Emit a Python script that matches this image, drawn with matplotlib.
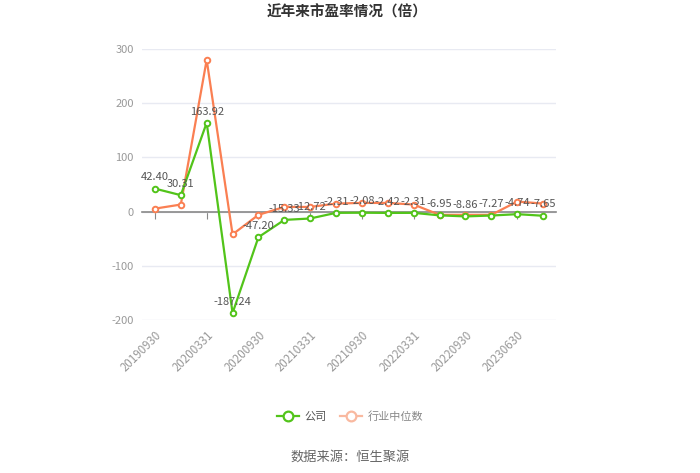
import matplotlib
matplotlib.use("Agg")
import matplotlib.pyplot as plt
from matplotlib.lines import Line2D

plt.rcParams['font.family'] = ['Noto Sans CJK SC', 'DejaVu Sans']

dates = ["20190930", "20191231", "20200331", "20200630", "20200930", "20201231",
         "20210331", "20210630", "20210930", "20211231", "20220331", "20220630",
         "20220930", "20221231", "20230630", "20230930"]
company = [42.40, 30.31, 163.92, -187.24, -47.20, -15.33, -12.72, -2.31, -2.08,
           -2.42, -2.31, -6.95, -8.86, -7.27, -4.74, -7.65]
industry = [5.5, 13, 280, -42, -6, 8.6, 8.6, 14.8, 16, 16, 13, -6, -6, -6, 18.5, 14.8]
yticks = [-200, -100, 0, 100, 200, 300]

green = "#52c41a"
orange = "#fa7f52"

fig = plt.figure(figsize=(7, 4.73), dpi=100)
ax = fig.add_axes([142/700, 1-320/473, (556-142)/700, (320-49)/473])

x = list(range(len(dates)))
ax.plot(x, industry, color=orange, lw=1.6, marker='o', ms=4, mfc='white',
        mec=orange, mew=1.4, zorder=3)
ax.plot(x, company, color=green, lw=1.6, marker='o', ms=4, mfc='white',
        mec=green, mew=1.4, zorder=4)

for xi, v in zip(x, company):
    ax.annotate(f"{v:.2f}", (xi, v), xytext=(0, 4.5), textcoords='offset points',
                ha='center', va='bottom', fontsize=8, color='#555555', zorder=5)

ax.set_xlim(-0.5, len(dates) - 0.5)
ax.set_ylim(-200, 300)
ax.set_yticks(yticks)
ax.set_yticklabels([str(t) for t in yticks])
ax.grid(axis='y', color='#e8eaf2', lw=1)
ax.set_axisbelow(True)
for s in ['top', 'right', 'left']:
    ax.spines[s].set_visible(False)
ax.spines['bottom'].set_position(('data', 0))
ax.spines['bottom'].set_color('#888888')
ax.spines['bottom'].set_linewidth(1.2)
ax.tick_params(axis='y', length=0, labelsize=8, labelcolor='#999999', pad=6)
ax.set_xticks(x[::2])
ax.tick_params(axis='x', length=5, color='#888888', labelbottom=False, direction='out')

sec = ax.secondary_xaxis(0)
sec.set_xticks(x[::2])
sec.set_xticklabels(dates[::2], rotation=45, ha='right', rotation_mode='anchor')
sec.tick_params(length=0, labelsize=8.3, labelcolor='#999999', pad=6)
sec.spines['bottom'].set_visible(False)

fig.text(0.496, 1-12/473, "近年来市盈率情况（倍）", ha='center', va='center',
         fontsize=10.5, fontweight='bold', color='#333333')

handles = [
    Line2D([0], [0], color=green, lw=1.6, marker='o', ms=7, mfc='white', mec=green, mew=1.6),
    Line2D([0], [0], color='#f9b9a0', lw=1.6, marker='o', ms=7, mfc='white', mec='#f9b9a0', mew=1.6),
]
leg = fig.legend(handles, ["公司", "行业中位数"], loc='center', bbox_to_anchor=(0.5, 1-417/473),
                 ncol=2, frameon=False, fontsize=8, handlelength=2.0, columnspacing=1.2,
                 handletextpad=0.5)
leg.get_texts()[0].set_color('#555555')
leg.get_texts()[1].set_color('#888888')

fig.text(0.5, 1-457/473, "数据来源：恒生聚源", ha='center', va='center',
         fontsize=9.5, color='#666666')

fig.savefig("out.png", dpi=100)
